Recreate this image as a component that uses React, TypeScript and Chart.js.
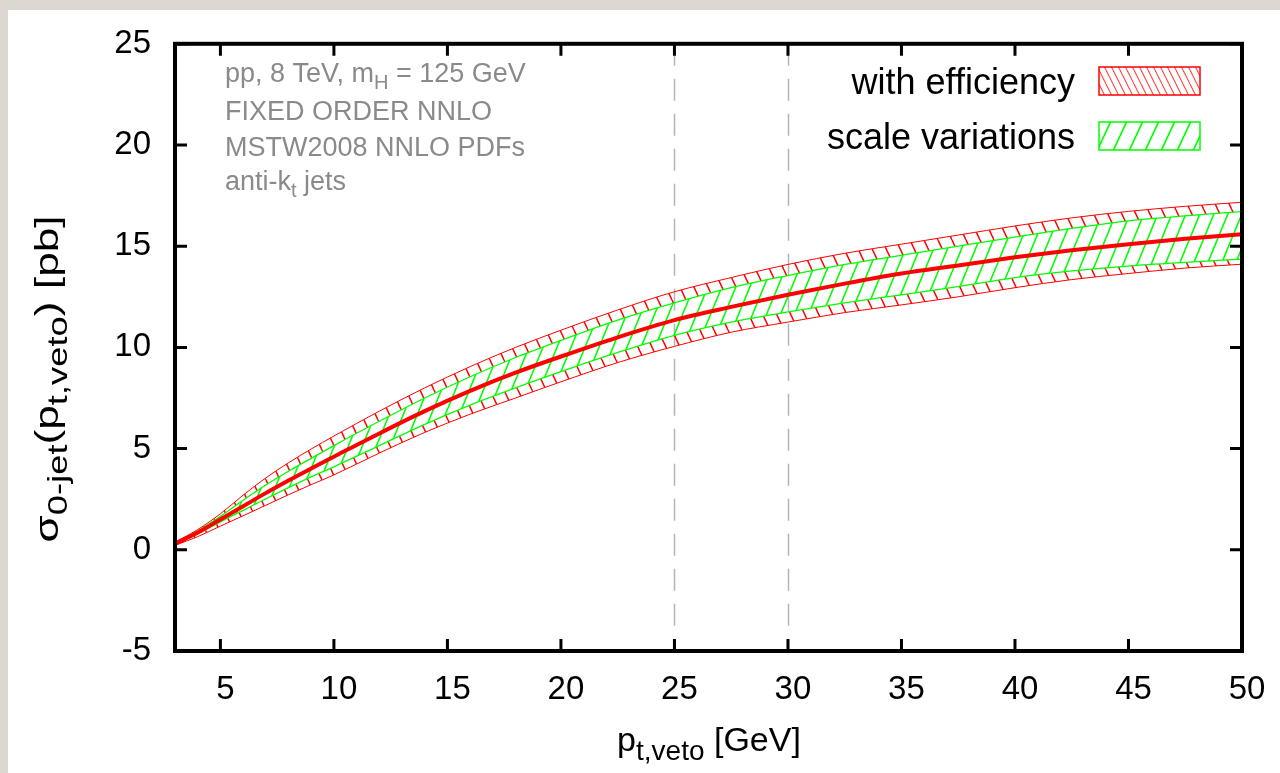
import React, { useEffect, useRef } from 'react';
import { Chart, registerables } from 'chart.js';

Chart.register(...registerables);

// ---------- data ----------
const PT = [3, 4, 5, 6, 7, 8, 9, 10, 12, 14, 16, 18, 20, 22.5, 25, 27.5, 30, 32.5, 35, 37.5, 40, 42.5, 45, 47.5, 50];
const CENTRAL = [0.3, 0.85, 1.5, 2.15, 2.8, 3.42, 4.02, 4.6, 5.75, 6.85, 7.85, 8.75, 9.55, 10.5, 11.35, 12.0, 12.6, 13.15, 13.65, 14.05, 14.45, 14.8, 15.1, 15.37, 15.59];
const EFF_UP = [0.38, 1.0, 1.78, 2.7, 3.55, 4.3, 4.98, 5.62, 6.85, 8.0, 9.05, 10.0, 10.85, 11.85, 12.75, 13.45, 14.1, 14.65, 15.1, 15.55, 16.0, 16.4, 16.72, 16.97, 17.17];
const EFF_DOWN = [0.22, 0.65, 1.17, 1.68, 2.2, 2.72, 3.22, 3.7, 4.78, 5.8, 6.7, 7.5, 8.3, 9.25, 10.05, 10.75, 11.25, 11.72, 12.1, 12.5, 12.95, 13.35, 13.65, 13.92, 14.11];
const SCALE_UP = [0.34, 0.93, 1.65, 2.45, 3.2, 3.88, 4.52, 5.15, 6.35, 7.5, 8.55, 9.5, 10.35, 11.35, 12.2, 12.95, 13.55, 14.1, 14.55, 15.0, 15.45, 15.88, 16.25, 16.5, 16.71];
const SCALE_DOWN = [0.27, 0.78, 1.38, 1.95, 2.52, 3.07, 3.6, 4.1, 5.15, 6.2, 7.15, 8.0, 8.8, 9.75, 10.6, 11.25, 11.75, 12.2, 12.6, 13.0, 13.45, 13.78, 14.02, 14.2, 14.36];

const X_TICKS = [5, 10, 15, 20, 25, 30, 35, 40, 45, 50];
const Y_TICKS = [-5, 0, 5, 10, 15, 20, 25];
const VETO_LINES = [25, 30];
const LEGEND_LABELS = ['with efficiency', 'scale variations'];

type Seg = { t: string; sub?: boolean };
const INFO_LINES: Seg[][] = [
  [{ t: 'pp, 8 TeV, m' }, { t: 'H', sub: true }, { t: ' = 125 GeV' }],
  [{ t: 'FIXED ORDER NNLO' }],
  [{ t: 'MSTW2008 NNLO PDFs' }],
  [{ t: 'anti-k' }, { t: 't', sub: true }, { t: ' jets' }],
];
const X_TITLE: Seg[] = [{ t: 'p' }, { t: 't,veto', sub: true }, { t: ' [GeV]' }];
const Y_TITLE: Seg[] = [{ t: 'σ' }, { t: '0-jet', sub: true }, { t: '(p' }, { t: 't,veto', sub: true }, { t: ') [pb]' }];

const FAMILY = '"Liberation Sans", Arial, Helvetica, sans-serif';
const RED = '#ff0000';
const GREEN = '#00ff00';

function makeHatch(ctx: CanvasRenderingContext2D, color: string, w: number, h: number, dir: '/' | '\\', lw: number) {
  const c = document.createElement('canvas');
  c.width = w;
  c.height = h;
  const g = c.getContext('2d')!;
  g.strokeStyle = color;
  g.lineWidth = lw;
  for (const off of [-w, 0, w]) {
    g.beginPath();
    if (dir === '/') {
      g.moveTo(off, h);
      g.lineTo(off + w, 0);
    } else {
      g.moveTo(off, 0);
      g.lineTo(off + w, h);
    }
    g.stroke();
  }
  return ctx.createPattern(c, 'repeat')!;
}

function richWidth(ctx: CanvasRenderingContext2D, segs: Seg[], F: number, S: number) {
  let w = 0;
  for (const s of segs) {
    ctx.font = `${s.sub ? S : F}px ${FAMILY}`;
    w += ctx.measureText(s.t).width;
  }
  return w;
}

function drawRich(ctx: CanvasRenderingContext2D, segs: Seg[], x: number, y: number, F: number, S: number, subDy: number, align: 'left' | 'center' | 'right') {
  const w = richWidth(ctx, segs, F, S);
  let cx = align === 'left' ? x : align === 'center' ? x - w / 2 : x - w;
  ctx.textAlign = 'left';
  ctx.textBaseline = 'alphabetic';
  for (const s of segs) {
    ctx.font = `${s.sub ? S : F}px ${FAMILY}`;
    ctx.fillText(s.t, cx, s.sub ? y + subDy : y);
    cx += ctx.measureText(s.t).width;
  }
}

export default function App() {
  const ref = useRef<HTMLCanvasElement | null>(null);

  useEffect(() => {
    const canvas = ref.current!;
    const ctx = canvas.getContext('2d')!;
    const redPlot = makeHatch(ctx, RED, 14, 30, '\\', 1.5);
    const greenPlot = makeHatch(ctx, GREEN, 14, 34, '/', 1.6);
    const redLegend = makeHatch(ctx, 'rgba(255,40,40,0.85)', 7, 14, '\\', 1.1);
    const greenLegend = makeHatch(ctx, GREEN, 16, 34, '/', 1.6);

    const pts = (arr: number[]) => PT.map((x, i) => ({ x, y: arr[i] }));
    const common = { pointRadius: 0, cubicInterpolationMode: 'monotone' as const };

    const decor = {
      id: 'decor',
      beforeDatasetsDraw(chart: any) {
        const { ctx: c, chartArea: a, scales } = chart;
        c.save();
        c.strokeStyle = '#b4b4b4';
        c.lineWidth = 1.5;
        c.setLineDash([22, 13]);
        for (const v of VETO_LINES) {
          const px = Math.round(scales.x.getPixelForValue(v)) + 0.5;
          c.beginPath();
          c.moveTo(px, a.top);
          c.lineTo(px, a.bottom);
          c.stroke();
        }
        c.restore();
      },
      afterDraw(chart: any) {
        const { ctx: c, chartArea: a, scales } = chart;
        c.save();
        // ticks (inward, mirrored)
        c.strokeStyle = '#000';
        c.lineWidth = 3;
        const TL = 12;
        for (const v of X_TICKS) {
          const px = scales.x.getPixelForValue(v);
          c.beginPath();
          c.moveTo(px, a.bottom);
          c.lineTo(px, a.bottom - TL);
          c.moveTo(px, a.top);
          c.lineTo(px, a.top + TL);
          c.stroke();
        }
        for (const v of Y_TICKS) {
          const py = scales.y.getPixelForValue(v);
          c.beginPath();
          c.moveTo(a.left, py);
          c.lineTo(a.left + TL, py);
          c.moveTo(a.right, py);
          c.lineTo(a.right - TL, py);
          c.stroke();
        }
        // frame
        c.lineWidth = 4;
        c.strokeRect(a.left, a.top, a.right - a.left, a.bottom - a.top);

        // info text
        c.fillStyle = '#8a8a8a';
        const baselines = [82, 120, 156, 190];
        INFO_LINES.forEach((segs, i) => drawRich(c, segs, 225, baselines[i], 27, 20, 7, 'left'));

        // legend
        const pats = [redLegend, greenLegend];
        const cols = [RED, GREEN];
        const boxTops = [67, 122];
        LEGEND_LABELS.forEach((lab, i) => {
          c.fillStyle = '#000';
          c.font = `36px ${FAMILY}`;
          c.textAlign = 'right';
          c.textBaseline = 'alphabetic';
          c.fillText(lab, 1075, boxTops[i] + 27);
          c.fillStyle = pats[i];
          c.fillRect(1099, boxTops[i], 101, 28);
          c.strokeStyle = cols[i];
          c.lineWidth = 1.5;
          c.strokeRect(1099, boxTops[i], 101, 28);
        });

        // axis titles
        c.fillStyle = '#000';
        drawRich(c, X_TITLE, 709, 751, 34, 28, 9, 'center');
        c.translate(58, 379);
        c.rotate(-Math.PI / 2);
        c.scale(1.3, 1);
        drawRich(c, Y_TITLE, 0, 0, 34, 28, 9, 'center');
        c.restore();
      },
    };

    const chart = new Chart(canvas, {
      type: 'line',
      data: {
        datasets: [
          { label: 'eff up', data: pts(EFF_UP), borderColor: RED, borderWidth: 1, backgroundColor: redPlot, fill: 2, order: 4, ...common },
          { label: 'eff down', data: pts(EFF_DOWN), borderColor: RED, borderWidth: 1, fill: false, order: 3, ...common },
          { label: 'scale up', data: pts(SCALE_UP), borderColor: GREEN, borderWidth: 1.3, backgroundColor: greenPlot, fill: 3, order: 2, ...common },
          { label: 'scale down', data: pts(SCALE_DOWN), borderColor: GREEN, borderWidth: 1.3, backgroundColor: redPlot, fill: 1, order: 1, ...common },
          { label: 'central', data: pts(CENTRAL), borderColor: RED, borderWidth: 4, fill: false, order: 0, ...common },
        ],
      },
      options: {
        animation: false,
        responsive: false,
        events: [],
        layout: { padding: { left: 0, top: 42, right: 38, bottom: 0 } },
        plugins: { legend: { display: false }, tooltip: { enabled: false } },
        scales: {
          x: {
            type: 'linear',
            min: 3,
            max: 50,
            afterBuildTicks: (s: any) => { s.ticks = X_TICKS.map((v) => ({ value: v })); },
            afterFit: (s: any) => { s.height = 122; },
            grid: { display: false, drawTicks: false },
            border: { display: false },
            ticks: { color: '#000', font: { family: FAMILY, size: 33 }, padding: 19, maxRotation: 0, autoSkip: false, labelOffset: 5 },
          },
          y: {
            type: 'linear',
            min: -5,
            max: 25,
            afterBuildTicks: (s: any) => { s.ticks = Y_TICKS.map((v) => ({ value: v })); },
            afterFit: (s: any) => { s.width = 175; },
            grid: { display: false, drawTicks: false },
            border: { display: false },
            ticks: { color: '#000', font: { family: FAMILY, size: 33 }, padding: 24, autoSkip: false },
          },
        },
      } as any,
      plugins: [decor],
    });
    return () => chart.destroy();
  }, []);

  return (
    <div style={{ position: 'absolute', left: 0, top: 0, width: 1280, height: 773, background: '#dcd8d1', overflow: 'hidden' }}>
      <div style={{ position: 'absolute', left: 8, top: 10, right: 0, bottom: 0, background: '#ffffff' }} />
      <canvas ref={ref} width={1280} height={773} style={{ position: 'absolute', left: 0, top: 0, width: 1280, height: 773 }} />
    </div>
  );
}
